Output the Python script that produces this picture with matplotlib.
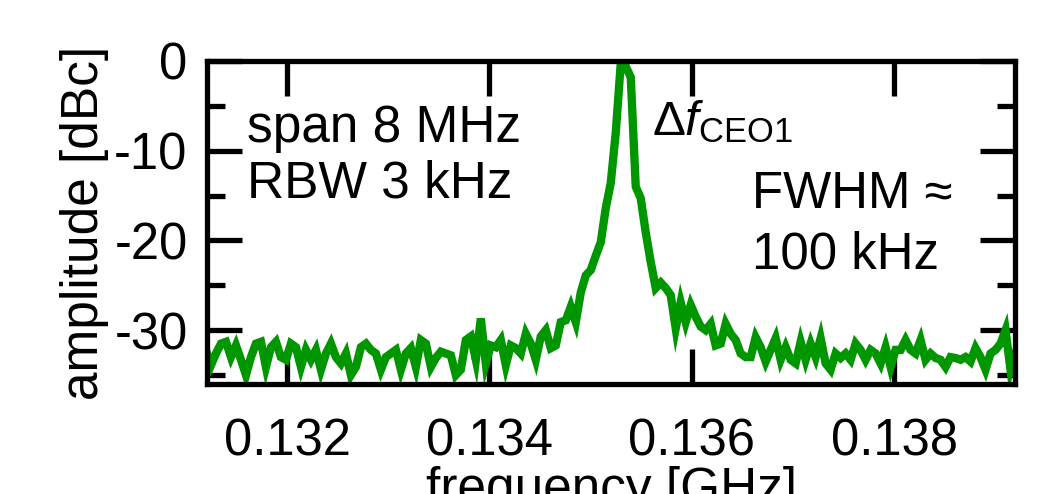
import numpy as np
import matplotlib
matplotlib.use("Agg")
import matplotlib.pyplot as plt
from matplotlib.ticker import MultipleLocator, FixedLocator

plt.rcParams['font.family'] = ['Liberation Sans', 'DejaVu Sans']
plt.rcParams['mathtext.fontset'] = 'custom'
plt.rcParams['mathtext.rm'] = 'Liberation Sans'
plt.rcParams['mathtext.it'] = 'Liberation Sans:italic'

# ---- data ----
f_start = 0.1312   # GHz
f_stop = 0.1392    # GHz  (span 8 MHz)
amp_left = [-32.2, -33.9, -32.6, -31.5, -31.3, -33.0, -31.7, -33.3, -35.0, -33.0,
            -31.5, -31.3, -34.1, -31.9, -31.3, -33.0, -33.3, -31.5, -31.9, -34.1,
            -32.2, -33.3, -32.2, -34.4, -32.6, -31.5, -33.0, -33.7, -32.6, -35.0,
            -34.1, -31.9, -31.5]
amp_mid_left = [-32.2, -32.6, -34.4, -33.0, -32.6, -32.2, -34.4, -32.6, -32.0, -34.1,
                -31.1, -31.5, -34.1, -33.1, -32.4, -32.6, -32.8, -35.0, -34.4, -31.1,
                -30.7, -33.3, -28.7, -33.7, -31.7, -31.9, -31.1, -33.9, -31.7, -32.0,
                -32.6, -30.4, -31.5, -33.3, -30.7, -30.0]
amp_peak = [-32.0, -31.7, -29.1, -28.9, -27.4, -29.1, -25.8, -23.9, -23.3, -21.7,
            -20.2, -16.4, -13.6, -8.0, -0.3, -0.6, -1.8, -14.0, -15.3, -19.1,
            -22.4, -25.3, -24.7, -25.3, -26.1, -29.8, -26.9, -29.1, -27.2]
amp_mid_right = [-28.5, -29.6, -30.0, -29.3, -31.7, -31.5, -29.3, -30.4, -31.1, -32.6,
                 -33.0, -33.0, -30.8, -31.9, -33.5, -32.2, -30.9, -33.3, -31.9, -33.3,
                 -33.7, -31.3, -33.3, -31.5, -33.0, -30.9, -33.7, -34.4, -32.6, -33.1,
                 -32.6, -33.3, -31.5]
amp_right = [-32.2, -33.3, -32.2, -32.6, -33.7, -31.9, -34.1, -32.2, -32.2, -31.1,
             -32.2, -32.6, -31.1, -33.3, -32.6, -33.1, -33.3, -34.1, -33.0, -33.1,
             -33.3, -33.0, -33.5, -32.0, -33.0, -34.4, -32.6, -32.2, -31.5, -30.0,
             -34.4, -32.6]
amplitude = amp_left + amp_mid_left + amp_peak + amp_mid_right + amp_right
frequency = np.linspace(f_start, f_stop, len(amplitude))

x_ticks = [0.132, 0.134, 0.136, 0.138]
x_ticklabels = ['0.132', '0.134', '0.136', '0.138']
y_ticks = [0, -10, -20, -30]
y_ticklabels = ['0', '-10', '-20', '-30']

# ---- figure ----
fig = plt.figure(figsize=(10.6, 4.94), dpi=100)
ax = fig.add_axes([207/1060, 1 - 384/494, (1015-207)/1060, (384-61)/494])

ax.plot(frequency, amplitude, color='#009600', lw=6.0, solid_joinstyle='miter')

ax.set_xlim(0.13121, 0.139195)
ax.set_ylim(-36, 0)

ax.xaxis.set_major_locator(FixedLocator(x_ticks))
ax.set_xticklabels(x_ticklabels)
ax.yaxis.set_major_locator(FixedLocator(y_ticks))
ax.set_yticklabels(y_ticklabels)
ax.yaxis.set_minor_locator(MultipleLocator(5))

for s in ax.spines.values():
    s.set_linewidth(3.8)

ax.tick_params(which='both', direction='in', top=True, right=True, width=3.8,
               labelsize=36.5, colors='black')
ax.tick_params(which='major', length=25, pad=14)
ax.tick_params(which='minor', length=13)
ax.tick_params(axis='x', which='major', pad=24)

ax.set_xlabel('frequency [GHz]', fontsize=37, labelpad=0)
ax.set_ylabel('amplitude [dBc]', fontsize=37, labelpad=4)

ax.text(0.0495, 0.749, 'span 8 MHz', transform=ax.transAxes, fontsize=37,
        va='baseline', ha='left')
ax.text(0.0495, 0.576, 'RBW 3 kHz', transform=ax.transAxes, fontsize=37,
        va='baseline', ha='left')
ax.text(0.551, 0.771, r'$\Delta f_{\mathrm{CEO1}}$', transform=ax.transAxes,
        fontsize=35.5, va='baseline', ha='left')
ax.text(0.6745, 0.545, 'FWHM \u2248', transform=ax.transAxes, fontsize=36.7,
        va='baseline', ha='left')
ax.text(0.6745, 0.359, '100 kHz', transform=ax.transAxes, fontsize=36.7,
        va='baseline', ha='left')

fig.savefig('out.png', dpi=100)
